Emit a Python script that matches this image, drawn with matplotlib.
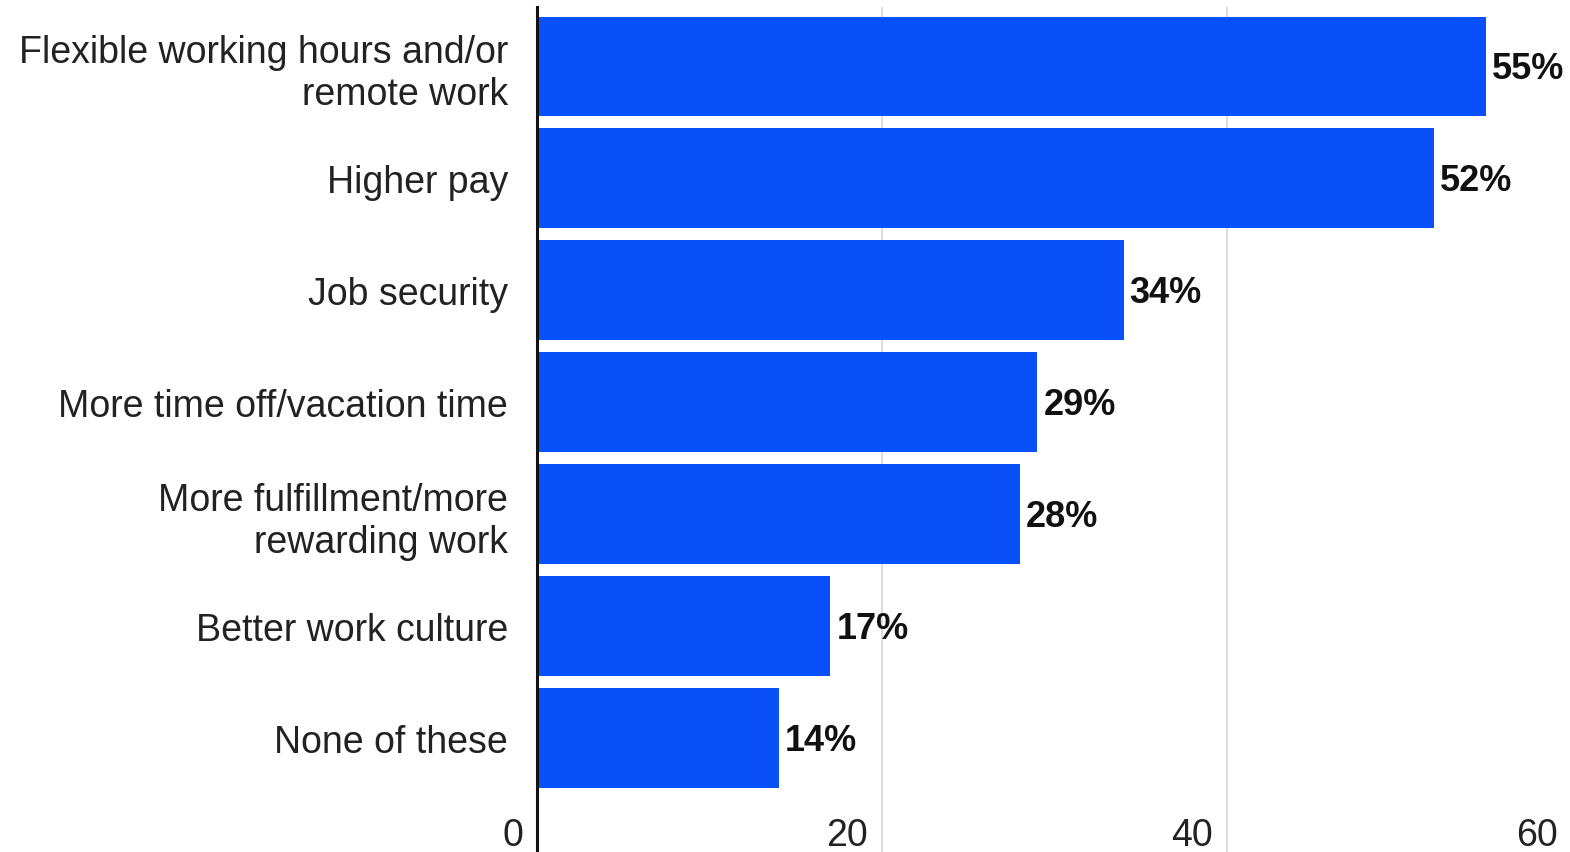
import matplotlib.pyplot as plt
from matplotlib.transforms import ScaledTranslation

categories = ["Flexible working hours and/or\nremote work", "Higher pay", "Job security",
              "More time off/vacation time", "More fulfillment/more\nrewarding work",
              "Better work culture", "None of these"]
values = [55, 52, 34, 29, 28, 17, 14]
xticks = [0, 20, 40, 60]

plt.rcParams['font.family'] = ['Liberation Sans', 'DejaVu Sans']

fig = plt.figure(figsize=(15.7, 8.53), dpi=100)
ax = fig.add_axes([537/1570, 0, 1035/1570, 845/853])

pos = list(range(len(categories)))
ax.barh(pos, values, height=0.89, color='#0a50f8', zorder=2)
for p, v in zip(pos, values):
    ax.text(v + 0.35, p + 0.02, f"{v}%", va='center', ha='left', fontsize=26, fontweight='bold', color='#111111')

ax.set_ylim(7.02, -0.53)
ax.set_xlim(0, 60)
ax.set_yticks(pos)
ax.set_yticklabels(categories, fontsize=27, color='#222222', linespacing=1.2)
ax.set_xticks(xticks)
ax.set_xticklabels([str(t) for t in xticks], fontsize=27, color='#222222')
ax.tick_params(axis='y', length=0, pad=21)
ax.tick_params(axis='x', length=0, pad=-25)

off = ScaledTranslation(-14/100, 0, fig.dpi_scale_trans)
for lab in ax.get_xticklabels():
    lab.set_ha('right')
    lab.set_transform(lab.get_transform() + off)

ax.grid(axis='x', color='#dcdcdc', linewidth=1.5, zorder=0)
for s in ['top', 'right', 'bottom']:
    ax.spines[s].set_visible(False)
ax.spines['left'].set_linewidth(2.2)
ax.spines['left'].set_color('#111111')
ax.spines['left'].set_zorder(3)

fig.savefig("out.png", dpi=100)
